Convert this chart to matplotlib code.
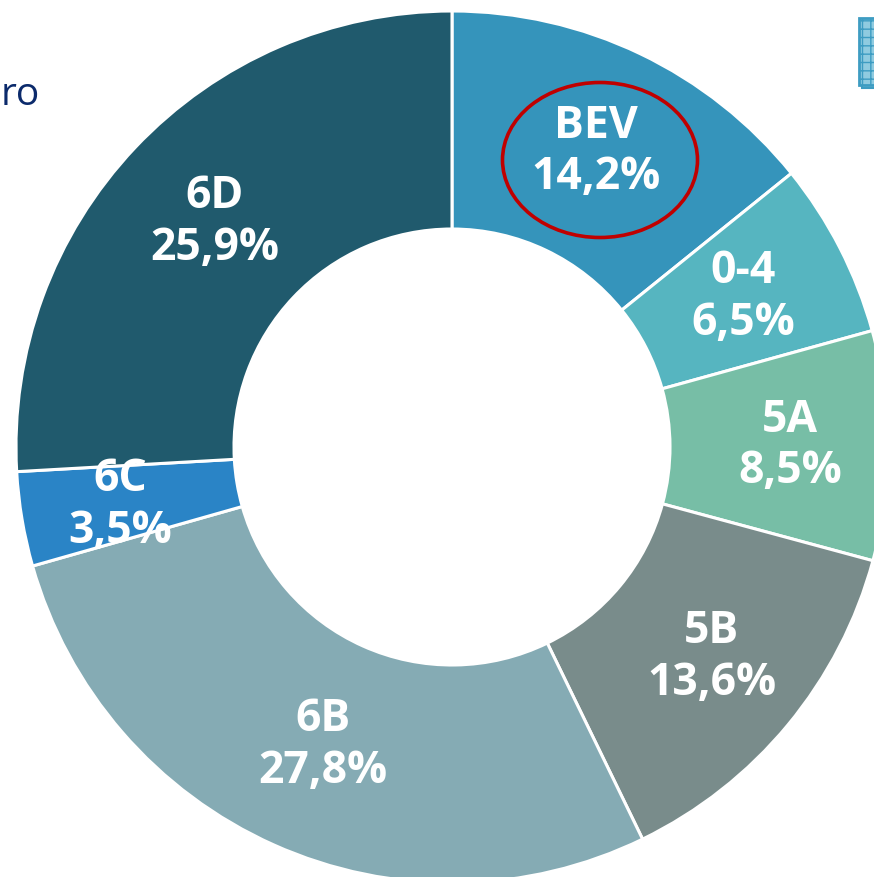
"""
Donut chart: share by category (BEV highlighted with a red ellipse)
"""
import numpy as np
import matplotlib.pyplot as plt
from matplotlib.patches import Ellipse, Rectangle

# Data
categories = ['BEV', '0-4', '5A', '5B', '6B', '6C', '6D']
shares = [14.2, 6.5, 8.5, 13.6, 27.8, 3.5, 25.9]
colors = ['#3594bb', '#56b5c0', '#77bea6', '#798c8b', '#85abb4', '#2a84c6', '#205a6d']

# small manual nudges of the labels (pixels), like the original
label_dx = [3, 0, 11, 8, 5, -9, 0]
label_dy = [0, 0, 0, -2, 0, -4, 0]

W, H = 874, 877
cx, cy = 452, H - 447
r_out = 436
ring = 218

fig = plt.figure(figsize=(W / 100, H / 100), dpi=100)
ax = fig.add_axes([0, 0, 1, 1])

wedges, _ = ax.pie(shares, colors=colors, startangle=90, counterclock=False,
                   center=(cx, cy), radius=r_out,
                   wedgeprops=dict(width=ring, edgecolor='white', linewidth=2.2))

# labels at the middle of each ring segment
r_lab = r_out - ring / 2
for w, cat, val, dx, dy in zip(wedges, categories, shares, label_dx, label_dy):
    ang = np.deg2rad((w.theta1 + w.theta2) / 2)
    x = cx + r_lab * np.cos(ang) + dx
    y = cy + r_lab * np.sin(ang) + dy
    txt = f"{cat}\n{val:.1f}%".replace('.', ',')
    ax.text(x, y, txt, ha='center', va='center', color='white',
            fontsize=32, fontweight='bold', family='Open Sans', linespacing=1.2)

# red ellipse around BEV
ax.add_patch(Ellipse((600, H - 160), 195, 155, fill=False, edgecolor='#c00000', linewidth=2.6))

# cut-off title fragment on the left
ax.text(1, H - 95, 'ro', ha='left', va='center', color='#0b2a6b', fontsize=28, family='Open Sans')

# cut-off icon on the top right
ax.add_patch(Rectangle((862, H - 88), 30, 67, facecolor='#b9dbe8', edgecolor='#3d9cc2', linewidth=1.5))
ax.add_patch(Rectangle((859, H - 85), 30, 67, facecolor='#8fcbe0', edgecolor='#3d9cc2', linewidth=2,
                       hatch='++'))

ax.set_xlim(0, W)
ax.set_ylim(0, H)
ax.axis('off')

plt.savefig('out.png', dpi=100, facecolor='white')
